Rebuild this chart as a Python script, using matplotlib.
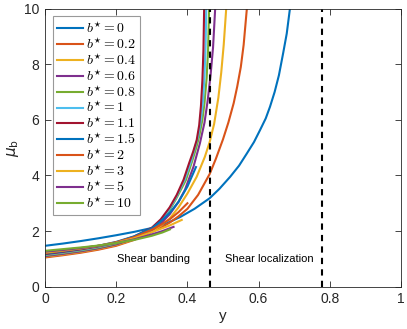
import matplotlib
matplotlib.use("Agg")
import matplotlib.pyplot as plt

plt.rcParams['font.family'] = ['Liberation Sans', 'DejaVu Sans']

b_labels = ['0', '0.2', '0.4', '0.6', '0.8', '1', '1.1', '1.5', '2', '3', '5', '10']
colors = ['#0072BD', '#D95319', '#EDB120', '#7E2F8E', '#77AC30', '#4DBEEE',
          '#A2142F', '#0072BD', '#D95319', '#EDB120', '#7E2F8E', '#77AC30']

y_b0 = [0, 0.05, 0.1, 0.15, 0.2, 0.25, 0.3, 0.34, 0.379, 0.42, 0.4625, 0.49, 0.52,
        0.545, 0.567, 0.587, 0.604, 0.62, 0.632, 0.645, 0.657, 0.669, 0.679, 0.688]
mu_b0 = [1.47, 1.55, 1.64, 1.74, 1.85, 1.97, 2.11, 2.27, 2.5, 2.8, 3.18, 3.52, 3.95,
         4.35, 4.79, 5.2, 5.63, 6.05, 6.47, 7.0, 7.6, 8.4, 9.1, 10.0]

y_b02 = [0, 0.05, 0.1, 0.15, 0.2, 0.25, 0.3, 0.325, 0.35, 0.375, 0.4, 0.43, 0.4625,
         0.48, 0.5, 0.515, 0.53, 0.54, 0.55, 0.558, 0.567]
mu_b02 = [1.05, 1.13, 1.22, 1.33, 1.47, 1.68, 1.97, 2.12, 2.3, 2.53, 2.8, 3.3, 4.05,
          4.6, 5.3, 5.9, 6.6, 7.2, 7.9, 8.7, 10.0]

y_b04 = [0, 0.05, 0.1, 0.15, 0.2, 0.25, 0.3, 0.325, 0.35, 0.375, 0.4, 0.426, 0.449,
         0.4625, 0.475, 0.487, 0.495, 0.502, 0.509]
mu_b04 = [1.08, 1.16, 1.25, 1.36, 1.5, 1.7, 2.0, 2.2, 2.45, 2.85, 3.35, 3.95, 4.67,
          5.2, 5.85, 6.8, 7.7, 8.7, 10.0]

y_b06 = [0, 0.05, 0.1, 0.15, 0.2, 0.25, 0.3, 0.325, 0.35, 0.375, 0.393, 0.417, 0.435,
         0.448, 0.457, 0.465, 0.472, 0.478]
mu_b06 = [1.10, 1.18, 1.27, 1.38, 1.52, 1.73, 2.03, 2.27, 2.6, 3.05, 3.48, 4.31, 5.15,
          5.9, 6.7, 7.6, 8.6, 10.0]

y_b08 = [0, 0.05, 0.1, 0.15, 0.2, 0.25, 0.3, 0.325, 0.35, 0.37, 0.396, 0.413, 0.425,
         0.433, 0.442, 0.448, 0.454, 0.458, 0.461]
mu_b08 = [1.13, 1.21, 1.30, 1.41, 1.55, 1.76, 2.08, 2.35, 2.75, 3.2, 3.84, 4.5, 5.0,
          5.4, 6.0, 6.6, 7.5, 8.5, 10.0]

y_b1 = [0, 0.05, 0.1, 0.15, 0.2, 0.25, 0.3, 0.325, 0.35, 0.37, 0.392, 0.41, 0.42,
        0.43, 0.438, 0.444, 0.448, 0.451, 0.453]
mu_b1 = [1.15, 1.23, 1.32, 1.43, 1.57, 1.78, 2.1, 2.38, 2.8, 3.25, 3.84, 4.5, 4.95,
         5.4, 6.0, 6.7, 7.6, 8.6, 10.0]

y_b11 = [0, 0.05, 0.1, 0.15, 0.2, 0.25, 0.3, 0.325, 0.35, 0.37, 0.389, 0.405, 0.416,
         0.426, 0.433, 0.438, 0.442, 0.445, 0.447]
mu_b11 = [1.17, 1.25, 1.34, 1.45, 1.59, 1.8, 2.12, 2.42, 2.85, 3.3, 3.84, 4.45, 4.85,
          5.27, 5.8, 6.5, 7.4, 8.5, 10.0]

y_b15 = [0, 0.05, 0.1, 0.15, 0.2, 0.25, 0.3, 0.325, 0.35, 0.375, 0.4, 0.412, 0.424]
mu_b15 = [1.19, 1.27, 1.36, 1.47, 1.61, 1.81, 2.1, 2.35, 2.65, 3.05, 3.6, 3.95, 4.3]

y_b2 = [0, 0.05, 0.1, 0.15, 0.2, 0.25, 0.3, 0.325, 0.35, 0.375, 0.4]
mu_b2 = [1.21, 1.29, 1.37, 1.47, 1.6, 1.78, 2.05, 2.22, 2.42, 2.68, 3.0]

y_b3 = [0, 0.05, 0.1, 0.15, 0.2, 0.25, 0.3, 0.325, 0.35, 0.367, 0.384]
mu_b3 = [1.23, 1.3, 1.38, 1.47, 1.58, 1.74, 1.96, 2.08, 2.2, 2.3, 2.4]

y_b5 = [0, 0.05, 0.1, 0.15, 0.2, 0.25, 0.3, 0.33, 0.361]
mu_b5 = [1.26, 1.32, 1.39, 1.47, 1.57, 1.7, 1.88, 2.0, 2.15]

y_b10 = [0, 0.05, 0.1, 0.15, 0.2, 0.25, 0.3, 0.33, 0.351]
mu_b10 = [1.29, 1.35, 1.41, 1.48, 1.57, 1.68, 1.83, 1.95, 2.06]

ys = [y_b0, y_b02, y_b04, y_b06, y_b08, y_b1, y_b11, y_b15, y_b2, y_b3, y_b5, y_b10]
mus = [mu_b0, mu_b02, mu_b04, mu_b06, mu_b08, mu_b1, mu_b11, mu_b15, mu_b2, mu_b3, mu_b5, mu_b10]

dashed_x = [0.4625, 0.778]
region_labels = ['Shear banding', 'Shear localization']
region_x = [0.306, 0.631]
region_y = 0.98

fig = plt.figure(figsize=(4.07, 3.29), dpi=100)
ax = fig.add_axes([0.1106, 0.1286, 0.8747, 0.8455])

for x, m, c, lab in zip(ys, mus, colors, b_labels):
    ax.plot(x, m, color=c, lw=1.5, label=r'$b^{\star} = ' + lab + '$',
            solid_joinstyle='round')

for dx in dashed_x:
    ax.plot([dx, dx], [0, 10], color='black', lw=1.5, ls=(0, (3, 2.5)))

for t, tx in zip(region_labels, region_x):
    ax.text(tx, region_y, t, ha='center', va='center', fontsize=8, color='black')

ax.set_xlim(0, 1)
ax.set_ylim(0, 10)
ax.set_xticks([0, 0.2, 0.4, 0.6, 0.8, 1])
ax.set_xticklabels(['0', '0.2', '0.4', '0.6', '0.8', '1'])
ax.set_yticks([0, 2, 4, 6, 8, 10])
ax.tick_params(direction='in', length=4, width=0.6, top=True, right=True,
               colors='#262626', labelsize=10, pad=4)
for s in ax.spines.values():
    s.set_color('#262626')
    s.set_linewidth(0.6)
ax.set_xlabel('y', fontsize=11, color='#262626', labelpad=2)
ax.set_ylabel(r'$\mu_{\mathrm{b}}$', fontsize=11, color='#262626', labelpad=2)

leg = ax.legend(loc='upper left', frameon=True, fancybox=False,
                handlelength=1.9, handletextpad=0.2, labelspacing=0.02,
                borderpad=0.3, borderaxespad=0.55,
                prop={'math_fontfamily': 'cm', 'size': 10})
leg.get_frame().set_edgecolor('#808080')
leg.get_frame().set_linewidth(0.8)

fig.savefig('out.png', dpi=100)
